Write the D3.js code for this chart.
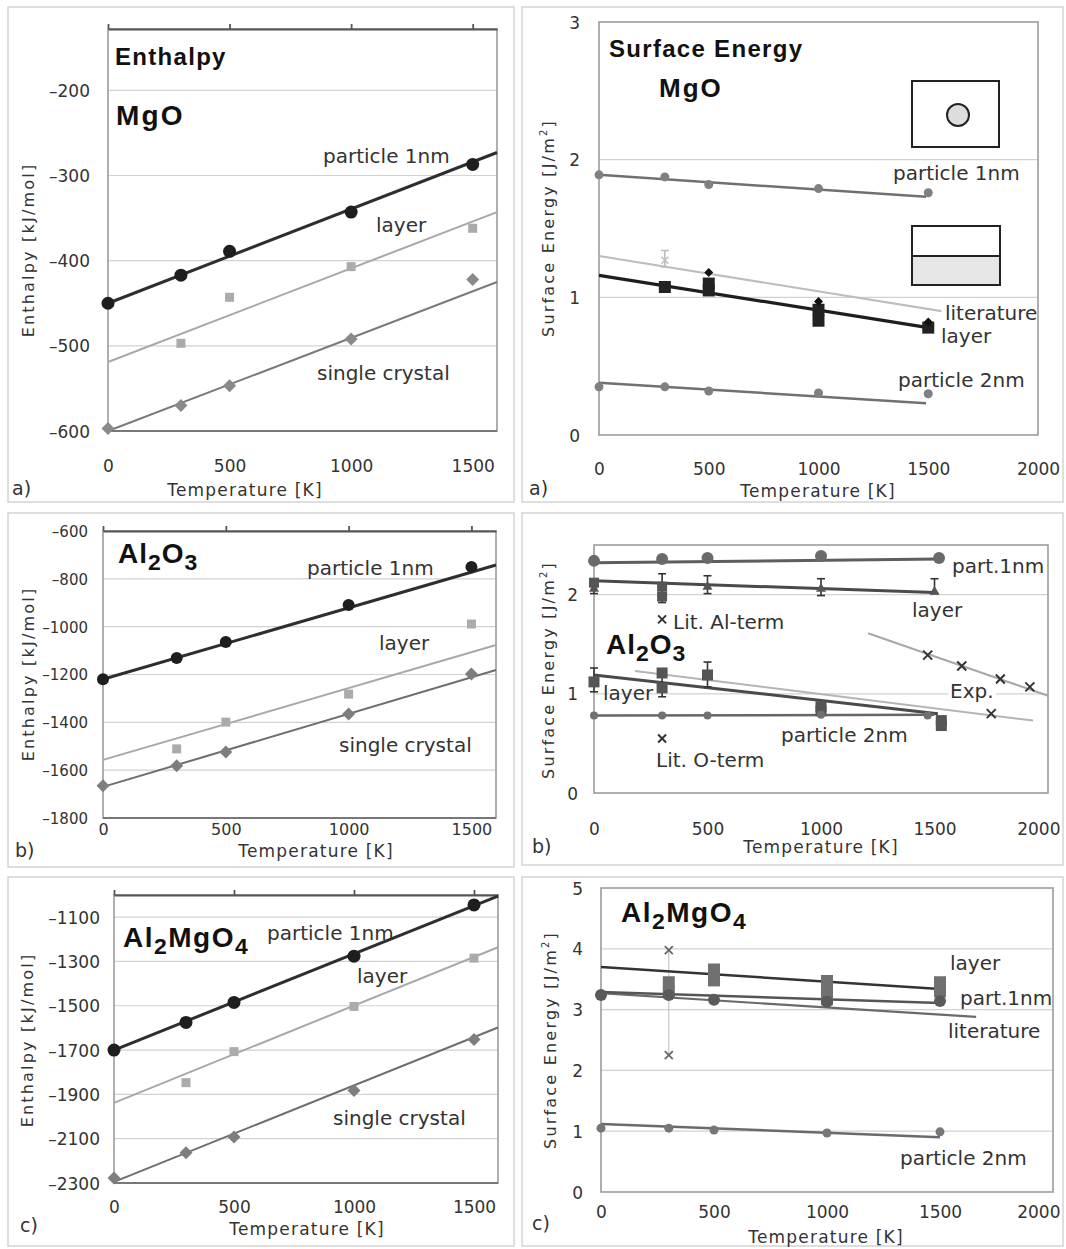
<!DOCTYPE html>
<html>
<head>
<meta charset="utf-8">
<script src="https://cdn.jsdelivr.net/npm/d3@7"></script>
<style>
  body { margin: 0; background: #fff; }
  svg text { font-family: "DejaVu Sans", sans-serif; }
  svg text.chem { font-family: "Liberation Sans", Arial, sans-serif; font-weight: bold; }
</style>
</head>
<body>
<script>
// ---------- data: [temperature K, value] ----------
// a) MgO enthalpy [kJ/mol]
var mgoEnthParticle1 = [[0,-450],[300,-417],[500,-389],[1000,-343],[1500,-287]];
var mgoEnthLayer     = [[300,-497],[500,-443],[1000,-407],[1500,-362]];
var mgoEnthCrystal   = [[0,-597],[300,-570],[500,-547],[1000,-492],[1500,-422]];
var mgoEnthFitParticle1 = [[0,-450],[1600,-273]];
var mgoEnthFitLayer     = [[0,-519],[1600,-343]];
var mgoEnthFitCrystal   = [[0,-600],[1600,-425]];

// a) MgO surface energy [J/m2]
var mgoSurfParticle1 = [[0,1.89],[300,1.875],[500,1.82],[1000,1.79],[1500,1.76]];
var mgoSurfParticle2 = [[0,0.35],[300,0.35],[500,0.32],[1000,0.305],[1500,0.30]];
var mgoSurfLayer     = [[300,1.075],[500,1.05],[500,1.1],[1000,0.83],[1000,0.91],[1500,0.78]];
var mgoSurfLit       = [[500,1.18],[1000,0.97],[1500,0.82]];
var mgoSurfLitErr    = [[300,1.27,1.22,1.34]];
var mgoSurfFitParticle1 = [[0,1.89],[1490,1.73]];
var mgoSurfFitParticle2 = [[0,0.38],[1490,0.23]];
var mgoSurfFitLayer     = [[0,1.16],[1500,0.78]];
var mgoSurfFitLit       = [[0,1.30],[1560,0.90]];

// b) Al2O3 enthalpy
var aloEnthParticle1 = [[0,-1220],[300,-1131],[500,-1064],[1000,-909],[1500,-750]];
var aloEnthLayer     = [[300,-1511],[500,-1399],[1000,-1282],[1500,-989]];
var aloEnthCrystal   = [[0,-1665],[300,-1582],[500,-1524],[1000,-1365],[1500,-1198]];
var aloEnthFitParticle1 = [[0,-1220],[1600,-742]];
var aloEnthFitLayer     = [[0,-1557],[1600,-1077]];
var aloEnthFitCrystal   = [[0,-1670],[1600,-1181]];

// b) Al2O3 surface energy
var aloSurfPart1    = [[0,2.34],[300,2.36],[500,2.37],[1000,2.39],[1520,2.37]];
var aloSurfLayerTop = [[0,2.07],[500,2.09],[1000,2.07],[1500,2.04]];
var aloSurfLayerTopSq = [[300,2.08],[300,1.98],[0,2.12]];
var aloSurfLayerTopErr = [[0,2.07,2.01,2.14],[300,2.04,1.92,2.21],[500,2.09,2.01,2.19],[1000,2.07,1.99,2.16],[1500,2.04,2.01,2.16]];
var aloSurfLayerLow = [[0,1.12],[300,1.21],[300,1.06],[500,1.19],[1000,0.83],[1000,0.87],[1530,0.68],[1530,0.73]];
var aloSurfLayerLowErr = [[0,1.12,1.02,1.26],[300,1.1,0.97,1.22],[500,1.19,1.07,1.32]];
var aloSurfPart2    = [[0,0.78],[300,0.78],[500,0.78],[1000,0.79],[1470,0.78]];
var aloSurfLitAl    = [[300,1.75]];
var aloSurfLitO     = [[300,0.55]];
var aloSurfExp      = [[1470,1.39],[1620,1.28],[1790,1.15],[1920,1.07],[1750,0.80]];
var aloSurfFitPart1    = [[0,2.32],[1520,2.36]];
var aloSurfFitLayerTop = [[0,2.14],[1500,2.02]];
var aloSurfFitLayerLow = [[0,1.19],[1515,0.80]];
var aloSurfFitPart2    = [[0,0.78],[1500,0.79]];
var aloSurfFitLit      = [[181,1.23],[1934,0.73]];
var aloSurfFitExp      = [[1207,1.61],[2000,0.98]];

// c) Al2MgO4 enthalpy
var spEnthParticle1 = [[0,-1700],[300,-1575],[500,-1485],[1000,-1276],[1500,-1045]];
var spEnthLayer     = [[300,-1847],[500,-1707],[1000,-1503],[1500,-1285]];
var spEnthCrystal   = [[0,-2277],[300,-2164],[500,-2092],[1000,-1883],[1500,-1652]];
var spEnthFitParticle1 = [[0,-1700],[1600,-1005]];
var spEnthFitLayer     = [[0,-1938],[1600,-1236]];
var spEnthFitCrystal   = [[0,-2295],[1600,-1598]];

// c) Al2MgO4 surface energy
var spSurfLayer = [[300,3.45],[300,3.28],[500,3.66],[500,3.48],[1000,3.47],[1000,3.3],[1000,3.17],[1500,3.45],[1500,3.3]];
var spSurfPart1 = [[0,3.24],[300,3.24],[500,3.16],[1000,3.13],[1500,3.14]];
var spSurfPart2 = [[0,1.05],[300,1.05],[500,1.02],[1000,0.97],[1500,0.99]];
var spSurfLit   = [[300,3.98],[300,2.25]];
var spSurfFitLayer = [[0,3.70],[1500,3.34]];
var spSurfFitPart1 = [[0,3.29],[1500,3.11]];
var spSurfFitLit   = [[0,3.27],[1660,2.88]];
var spSurfFitPart2 = [[0,1.12],[1500,0.90]];

var tempTicks = [0, 500, 1000, 1500];
var tempTicksWide = [0, 500, 1000, 1500, 2000];

// ---------- helpers ----------
var svg = d3.select("body").append("svg")
    .attr("width", 1066)
    .attr("height", 1249);

// marker shapes, size = half width in px
var circle = {draw: function(c, r) { c.moveTo(r, 0); c.arc(0, 0, r, 0, 2 * Math.PI); }};
var square = {draw: function(c, r) { c.rect(-r, -r, 2 * r, 2 * r); }};
var diamond = {draw: function(c, r) { c.moveTo(0, -r); c.lineTo(r, 0); c.lineTo(0, r); c.lineTo(-r, 0); c.closePath(); }};
var triangle = {draw: function(c, r) { c.moveTo(0, -r); c.lineTo(r, r * 0.8); c.lineTo(-r, r * 0.8); c.closePath(); }};
var cross = {draw: function(c, r) { c.moveTo(-r, -r); c.lineTo(r, r); c.moveTo(r, -r); c.lineTo(-r, r); }};

function frame(c) {
    var g = svg.append("g");
    g.append("rect")
        .attr("x", c.box[0]).attr("y", c.box[1])
        .attr("width", c.box[2] - c.box[0]).attr("height", c.box[3] - c.box[1])
        .attr("fill", "#fff").attr("stroke", "#d4d4d4").attr("stroke-width", 1.5);

    var x = d3.scaleLinear().domain(c.xDomain).range([c.left, c.right]);
    var y = d3.scaleLinear().domain(c.yDomain).range([c.bottom, c.top]);

    g.append("g").selectAll("line")
        .data(c.grid)
        .join("line")
        .attr("x1", c.left).attr("x2", c.right)
        .attr("y1", function(d) { return y(d); })
        .attr("y2", function(d) { return y(d); })
        .attr("stroke", "#d2d2d2").attr("stroke-width", 1.2);

    g.append("rect")
        .attr("x", c.left).attr("y", c.top)
        .attr("width", c.right - c.left).attr("height", c.bottom - c.top)
        .attr("fill", "none").attr("stroke", "#9c9c9c").attr("stroke-width", 1.6);

    if (c.topAxis) {
        // excel puts the category axis at the top when every value is negative
        g.append("g")
            .attr("transform", "translate(0," + c.top + ")")
            .call(d3.axisTop(x).tickValues(c.xTicks).tickSize(5).tickSizeOuter(0).tickFormat(""))
            .call(function(a) { a.selectAll("path,line").attr("stroke", "#555").attr("stroke-width", 1.8); });
        g.append("line")
            .attr("x1", c.left).attr("x2", c.right)
            .attr("y1", c.bottom).attr("y2", c.bottom)
            .attr("stroke", "#666").attr("stroke-width", 1.6);
    }

    // y tick labels
    g.append("g")
        .attr("transform", "translate(" + c.yLabelX + ",0)")
        .call(d3.axisLeft(y).tickValues(c.yTicks).tickSize(0).tickPadding(0)
            .tickFormat(function(d) { return String(d).replace("-", "\u2013"); }))
        .call(function(a) {
            a.select(".domain").remove();
            a.attr("font-family", "DejaVu Sans").attr("font-size", c.yTickFont || 17);
            a.selectAll("text").attr("fill", "#333").attr("dy", "0.36em");
        });

    // x tick labels, sitting well below the plot
    g.append("g")
        .attr("transform", "translate(0," + c.xLabelY + ")")
        .call(d3.axisBottom(x).tickValues(c.xTicks).tickSize(0).tickPadding(0).tickFormat(d3.format("d")))
        .call(function(a) {
            a.select(".domain").remove();
            a.attr("font-family", "DejaVu Sans").attr("font-size", c.xTickFont || 17);
            a.selectAll("text").attr("fill", "#333").attr("y", 0).attr("dy", 0);
            // keep the last label inside the panel box, as excel does
            a.selectAll("text").each(function(d) {
                var w = this.getBBox().width;
                var over = x(d) + w / 2 - (c.box[2] - 3);
                if (over > 0) d3.select(this).attr("x", -over);
            });
        });

    g.append("text")
        .attr("x", c.xTitle[0]).attr("y", c.xTitle[1])
        .attr("text-anchor", "middle")
        .attr("font-size", 17).attr("letter-spacing", 1.2).attr("fill", "#333")
        .text("Temperature [K]");

    var yt = g.append("text")
        .attr("transform", "translate(" + c.yTitle[0] + "," + c.yTitle[1] + ") rotate(-90)")
        .attr("text-anchor", "middle").attr("dy", "0.36em")
        .attr("font-size", 16).attr("letter-spacing", 2.2).attr("fill", "#333");
    if (c.surface) {
        yt.append("tspan").text("Surface Energy [J/m");
        yt.append("tspan").attr("dy", -7).attr("font-size", 10).text("2");
        yt.append("tspan").attr("dy", 7).text("]");
    } else {
        yt.text("Enthalpy [kJ/mol]");
    }

    g.append("text")
        .attr("x", c.letter[1]).attr("y", c.letter[2])
        .attr("font-size", 19).attr("fill", "#333")
        .text(c.letter[0]);

    return {g: g, x: x, y: y};
}

function fit(p, pts, color, width) {
    p.g.append("path")
        .datum(pts)
        .attr("d", d3.line().x(function(d) { return p.x(d[0]); }).y(function(d) { return p.y(d[1]); }))
        .attr("fill", "none")
        .attr("stroke", color)
        .attr("stroke-width", width);
}

function dots(p, pts, shape, r, fill, stroke, sw) {
    p.g.append("g").selectAll("path")
        .data(pts)
        .join("path")
        .attr("transform", function(d) { return "translate(" + p.x(d[0]) + "," + p.y(d[1]) + ")"; })
        .attr("d", d3.symbol().type(shape).size(r))
        .attr("fill", shape === cross ? "none" : fill)
        .attr("stroke", stroke || "none")
        .attr("stroke-width", sw || 1);
}

// [T, value, low, high]
function errorBars(p, rows, color) {
    var e = p.g.append("g").attr("stroke", color).attr("stroke-width", 1.6);
    rows.forEach(function(d) {
        var cx = p.x(d[0]);
        e.append("line").attr("x1", cx).attr("x2", cx).attr("y1", p.y(d[2])).attr("y2", p.y(d[3]));
        e.append("line").attr("x1", cx - 4).attr("x2", cx + 4).attr("y1", p.y(d[2])).attr("y2", p.y(d[2]));
        e.append("line").attr("x1", cx - 4).attr("x2", cx + 4).attr("y1", p.y(d[3])).attr("y2", p.y(d[3]));
    });
}

function label(p, txt, x, y, size, bg) {
    var t = p.g.append("text")
        .attr("x", x).attr("y", y)
        .attr("font-size", size || 20).attr("fill", "#333")
        .text(txt);
    if (bg) {
        var b = t.node().getBBox();
        p.g.insert("rect", function() { return t.node(); })
            .attr("x", b.x - 2).attr("y", b.y + 2).attr("width", b.width + 4).attr("height", b.height - 4)
            .attr("fill", "#fff");
    }
}

// bold chemical names, parts flagged 1 are subscripts
function formula(p, parts, x, y, size, spacing) {
    var t = p.g.append("text")
        .attr("class", "chem")
        .attr("x", x).attr("y", y)
        .attr("font-size", size)
        .attr("letter-spacing", spacing).attr("fill", "#111");
    var low = false;
    parts.forEach(function(s) {
        var sub = s[1] === 1;
        var sp = t.append("tspan").text(s[0]);
        if (sub) sp.attr("font-size", size * 0.82);
        if (sub && !low) sp.attr("dy", 7);
        if (!sub && low) sp.attr("dy", -7);
        low = sub;
    });
}

// ---------- a) MgO enthalpy ----------
var p1 = frame({box: [8, 7, 514, 502], left: 108, right: 497, top: 29, bottom: 431,
    xDomain: [0, 1600], yDomain: [-600, -128], grid: [-500, -400, -300, -200],
    yTicks: [-600, -500, -400, -300, -200], xTicks: tempTicks, topAxis: true,
    yLabelX: 90, xLabelY: 472, xTitle: [245, 496], yTitle: [28, 250], letter: ["a)", 12, 495]});
fit(p1, mgoEnthFitParticle1, "#2e2e2e", 3);
fit(p1, mgoEnthFitLayer, "#a8a8a8", 2);
fit(p1, mgoEnthFitCrystal, "#7a7a7a", 2);
dots(p1, mgoEnthParticle1, circle, 6.5, "#1e1e1e");
dots(p1, mgoEnthLayer, square, 4.5, "#ababab");
dots(p1, mgoEnthCrystal, diamond, 6.5, "#8a8a8a");
formula(p1, [["Enthalpy", 0]], 115, 65, 24, 1.3);
formula(p1, [["MgO", 0]], 116, 125, 28, 2.2);
label(p1, "particle 1nm", 323, 163);
label(p1, "layer", 376, 232);
label(p1, "single crystal", 317, 380);

// ---------- a) MgO surface energy ----------
var p2 = frame({box: [522, 7, 1063, 502], left: 599, right: 1038, top: 22, bottom: 435,
    xDomain: [0, 2000], yDomain: [0, 3], grid: [1, 2],
    yTicks: [0, 1, 2, 3], xTicks: tempTicksWide, surface: true,
    yLabelX: 580, xLabelY: 475, xTitle: [818, 497], yTitle: [548, 228], letter: ["a)", 529, 495]});
fit(p2, mgoSurfFitLit, "#bdbdbd", 2.2);
fit(p2, mgoSurfFitParticle1, "#707070", 2.5);
fit(p2, mgoSurfFitParticle2, "#707070", 2.5);
fit(p2, mgoSurfFitLayer, "#1e1e1e", 3.2);
errorBars(p2, mgoSurfLitErr, "#bdbdbd");
dots(p2, mgoSurfLitErr, cross, 3.5, "none", "#bdbdbd", 1.5);
dots(p2, mgoSurfParticle1, circle, 4.5, "#808080");
dots(p2, mgoSurfParticle2, circle, 4.5, "#808080");
dots(p2, mgoSurfLayer, square, 6, "#222");
dots(p2, mgoSurfLit, diamond, 4.5, "#111");
formula(p2, [["Surface Energy", 0]], 609, 57, 24, 1.3);
formula(p2, [["MgO", 0]], 659, 97, 26, 2);
label(p2, "particle 1nm", 893, 180);
label(p2, "literature", 945, 320);
label(p2, "layer", 941, 343);
label(p2, "particle 2nm", 898, 387);
// schematic icons: nano particle and layer
p2.g.append("rect").attr("x", 912).attr("y", 81).attr("width", 87).attr("height", 66)
    .attr("fill", "#fff").attr("stroke", "#222").attr("stroke-width", 2);
p2.g.append("circle").attr("cx", 958).attr("cy", 115).attr("r", 11)
    .attr("fill", "#ddd").attr("stroke", "#222").attr("stroke-width", 2);
p2.g.append("rect").attr("x", 912).attr("y", 256).attr("width", 88).attr("height", 29)
    .attr("fill", "#e6e6e6").attr("stroke", "none");
p2.g.append("rect").attr("x", 912).attr("y", 226).attr("width", 88).attr("height", 59)
    .attr("fill", "none").attr("stroke", "#222").attr("stroke-width", 2);
p2.g.append("line").attr("x1", 912).attr("x2", 1000).attr("y1", 256).attr("y2", 256)
    .attr("stroke", "#222").attr("stroke-width", 2);

// ---------- b) Al2O3 enthalpy ----------
var p3 = frame({box: [8, 513, 514, 867], left: 103, right: 496, top: 531, bottom: 818,
    xDomain: [0, 1600], yDomain: [-1800, -600], grid: [-1600, -1400, -1200, -1000, -800],
    yTicks: [-1800, -1600, -1400, -1200, -1000, -800, -600], xTicks: tempTicks, topAxis: true,
    yLabelX: 88, xLabelY: 835, xTitle: [316, 857], yTitle: [28, 674], letter: ["b)", 15, 857],
    yTickFont: 15, xTickFont: 16});
fit(p3, aloEnthFitParticle1, "#2e2e2e", 3);
fit(p3, aloEnthFitLayer, "#a8a8a8", 2);
fit(p3, aloEnthFitCrystal, "#6e6e6e", 2);
dots(p3, aloEnthParticle1, circle, 6, "#1e1e1e");
dots(p3, aloEnthLayer, square, 4.5, "#ababab");
dots(p3, aloEnthCrystal, diamond, 6.5, "#7e7e7e");
formula(p3, [["Al", 0], ["2", 1], ["O", 0], ["3", 1]], 118, 563, 28, 1);
label(p3, "particle 1nm", 307, 575);
label(p3, "layer", 379, 650);
label(p3, "single crystal", 339, 752);

// ---------- b) Al2O3 surface energy ----------
var p4 = frame({box: [522, 513, 1063, 865], left: 594, right: 1048, top: 545, bottom: 793,
    xDomain: [0, 2000], yDomain: [0, 2.5], grid: [1, 2],
    yTicks: [0, 1, 2], xTicks: tempTicksWide, surface: true,
    yLabelX: 578, xLabelY: 835, xTitle: [821, 853], yTitle: [548, 670], letter: ["b)", 532, 853]});
fit(p4, aloSurfFitExp, "#a8a8a8", 2);
fit(p4, aloSurfFitLit, "#b4b4b4", 2);
fit(p4, aloSurfFitPart1, "#5e5e5e", 3);
fit(p4, aloSurfFitLayerTop, "#4a4a4a", 3);
fit(p4, aloSurfFitLayerLow, "#4a4a4a", 3);
fit(p4, aloSurfFitPart2, "#666", 2.5);
errorBars(p4, aloSurfLayerTopErr, "#333");
errorBars(p4, aloSurfLayerLowErr, "#333");
dots(p4, aloSurfPart1, circle, 6, "#6a6a6a");
dots(p4, aloSurfLayerTop, triangle, 5, "#555");
dots(p4, aloSurfLayerTopSq, square, 5, "#555");
dots(p4, aloSurfLayerLow, square, 5.5, "#555");
dots(p4, aloSurfPart2, circle, 4, "#707070");
dots(p4, aloSurfLitAl, cross, 4, "none", "#333", 2);
dots(p4, aloSurfLitO, cross, 4, "none", "#333", 2);
dots(p4, aloSurfExp, cross, 4.5, "none", "#333", 2);
formula(p4, [["Al", 0], ["2", 1], ["O", 0], ["3", 1]], 606, 654, 28, 1);
label(p4, "part.1nm", 952, 573);
label(p4, "layer", 912, 617);
label(p4, "Lit. Al-term", 673, 629);
label(p4, "layer", 603, 700);
label(p4, "Exp.", 950, 698, 20, true);
label(p4, "particle 2nm", 781, 742);
label(p4, "Lit. O-term", 656, 767);

// ---------- c) Al2MgO4 enthalpy ----------
var p5 = frame({box: [8, 877, 514, 1246], left: 114, right: 498, top: 895, bottom: 1183,
    xDomain: [0, 1600], yDomain: [-2300, -1000], grid: [-2100, -1900, -1700, -1500, -1300, -1100],
    yTicks: [-2300, -2100, -1900, -1700, -1500, -1300, -1100], xTicks: tempTicks, topAxis: true,
    yLabelX: 100, xLabelY: 1213, xTitle: [307, 1235], yTitle: [27, 1040], letter: ["c)", 20, 1232]});
fit(p5, spEnthFitParticle1, "#2e2e2e", 3);
fit(p5, spEnthFitLayer, "#a8a8a8", 2);
fit(p5, spEnthFitCrystal, "#6e6e6e", 2);
dots(p5, spEnthParticle1, circle, 6.5, "#1e1e1e");
dots(p5, spEnthLayer, square, 4.5, "#ababab");
dots(p5, spEnthCrystal, diamond, 6.5, "#7e7e7e");
formula(p5, [["Al", 0], ["2", 1], ["MgO", 0], ["4", 1]], 123, 947, 28, 1.5);
label(p5, "particle 1nm", 267, 940);
label(p5, "layer", 357, 983);
label(p5, "single crystal", 333, 1125);

// ---------- c) Al2MgO4 surface energy ----------
var p6 = frame({box: [522, 877, 1063, 1246], left: 601, right: 1053, top: 888, bottom: 1192,
    xDomain: [0, 2000], yDomain: [0, 5], grid: [1, 2, 3, 4],
    yTicks: [0, 1, 2, 3, 4, 5], xTicks: tempTicksWide, surface: true,
    yLabelX: 583, xLabelY: 1218, xTitle: [826, 1243], yTitle: [550, 1040], letter: ["c)", 532, 1230]});
fit(p6, spSurfLit, "#bdbdbd", 1);
fit(p6, spSurfFitLit, "#6a6a6a", 2.2);
fit(p6, spSurfFitPart1, "#555", 2.5);
fit(p6, spSurfFitLayer, "#333", 2.5);
fit(p6, spSurfFitPart2, "#6a6a6a", 2.5);
dots(p6, spSurfLayer, square, 6, "#707070");
dots(p6, spSurfPart1, circle, 6, "#5a5a5a");
dots(p6, spSurfPart2, circle, 4.5, "#777");
dots(p6, spSurfLit, cross, 4, "none", "#666", 1.8);
formula(p6, [["Al", 0], ["2", 1], ["MgO", 0], ["4", 1]], 621, 922, 28, 1.5);
label(p6, "layer", 950, 970);
label(p6, "part.1nm", 960, 1005);
label(p6, "literature", 948, 1038);
label(p6, "particle 2nm", 900, 1165);
</script>
</body>
</html>
